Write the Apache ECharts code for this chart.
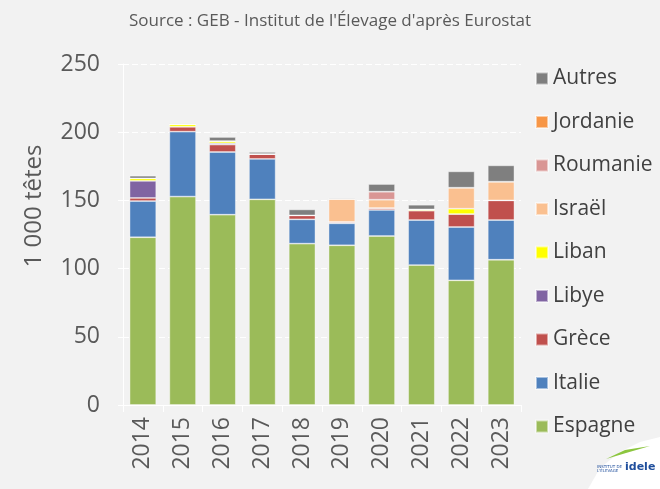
<!DOCTYPE html>
<html><head><meta charset="utf-8">
<script src="https://cdn.jsdelivr.net/npm/echarts@6/dist/echarts.min.js"></script>
<style>html,body{margin:0;padding:0;background:#f2f2f2}#c{width:660px;height:489px}</style>
</head><body><div id="c"></div>
<script>
const years = ['2014','2015','2016','2017','2018','2019','2020','2021','2022','2023'];
const espagne  = [123.0,152.8,139.5,150.8,118.3,117.1,123.9,102.6,91.4,106.5];
const italie   = [26.5,47.6,46.0,29.6,17.8,16.1,19.1,33.0,39.1,29.1];
const grece    = [2.3,3.6,5.4,3.6,2.9,1.0,1.4,6.9,9.5,14.4];
const libye    = [12.5,0,1.0,0,0,0,0,0,0,0];
const liban    = [1.8,1.8,1.6,0,0,0,0,0.9,3.9,0];
const israel   = [0,0,0,0,0,16.8,6.1,0,15.4,13.7];
const roumanie = [0,0,0,0,0,0,5.9,0,0,0];
const jordanie = [0,0,0,0,0,0,0,0,0,0];
const autres   = [2.0,0.7,3.0,1.5,4.4,0.8,5.6,3.4,12.0,12.0];
const yTicks = [0,50,100,150,200,250];
const yAxisTitle = '1 000 têtes';

const seriesDefs = [
  ['Espagne', espagne, '#9bbb59'],
  ['Italie', italie, '#4f81bd'],
  ['Grèce', grece, '#c0504d'],
  ['Libye', libye, '#8064a2'],
  ['Liban', liban, '#ffff00'],
  ['Israël', israel, '#fac090'],
  ['Roumanie', roumanie, '#d99694'],
  ['Jordanie', jordanie, '#f79646'],
  ['Autres', autres, '#7f7f7f']
];
const font = 'Open Sans';
const chart = echarts.init(document.getElementById('c'));
chart.setOption({
  backgroundColor: '#f2f2f2',
  animation: false,
  title: {
    text: "Source : GEB - Institut de l'Élevage d'après Eurostat",
    left: 'center', top: 8,
    textStyle: {fontFamily: font, fontSize: 17, fontWeight: 'normal', color: '#595959'}
  },
  legend: {
    orient: 'vertical', left: 530, top: 63, itemGap: 22.5,
    itemWidth: 12, itemHeight: 12, icon: 'rect',
    data: seriesDefs.map(s => s[0]).reverse(),
    textStyle: {fontFamily: font, fontSize: 21, color: '#404040'}
  },
  grid: {left: 123, right: 139, top: 64, bottom: 84},
  xAxis: {
    type: 'category', data: years,
    axisLine: {lineStyle: {color: '#ffffff', width: 1}},
    axisTick: {show: true, length: 7, lineStyle: {color: '#ffffff'}},
    axisLabel: {rotate: 90, margin: 12, fontFamily: font, fontSize: 23, color: '#595959'}
  },
  yAxis: {
    type: 'value', min: 0, max: 250, interval: 50,
    axisLine: {show: true, lineStyle: {color: '#ffffff'}},
    axisTick: {show: true, length: 5, lineStyle: {color: '#ffffff'}},
    axisLabel: {margin: 23, fontFamily: font, fontSize: 23, color: '#595959',
      formatter: v => yTicks.includes(v) ? String(v) : ''},
    splitLine: {lineStyle: {color: '#ffffff', type: [6,3], width: 1}}
  },
  series: seriesDefs.map(([name, data, color]) => ({
    name, type: 'bar', stack: 'total', data, barWidth: '67%',
    itemStyle: {color, borderColor: 'rgba(255,255,255,0.5)', borderWidth: 0.8}
  })),
  graphic: [
    {type: 'text', x: 34, y: 206, rotation: Math.PI / 2,
      style: {text: yAxisTitle, fontFamily: font, fontSize: 24, fill: '#595959', align: 'center', verticalAlign: 'middle'}},
    {type: 'polygon', shape: {points: [[588,489],[600,468],[620,452],[640,442],[660,437],[660,489]]}, style: {fill: '#ffffff'}},
    {type: 'polygon', shape: {points: [[606,459],[625,450],[650,446],[626,453]]}, style: {fill: '#8cc63f'}},
    {type: 'text', left: 597, top: 465, style: {text: "INSTITUT DE\nL'ÉLEVAGE", fontFamily: 'DejaVu Sans', fontSize: 4, fill: '#1f4e9c'}},
    {type: 'text', left: 625, top: 462, style: {text: 'idele', fontFamily: 'DejaVu Sans', fontWeight: 'bold', fontSize: 11, fill: '#1f4e9c'}}
  ]
});
</script></body></html>
